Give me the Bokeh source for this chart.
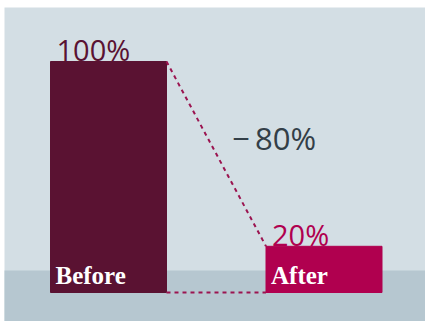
from bokeh.plotting import figure
from bokeh.models import ColumnDataSource, BoxAnnotation
from bokeh.core.properties import value
from bokeh.embed import file_html
from bokeh.resources import INLINE

# data
categories = ["Before", "After"]
values = [100, 20]
value_labels = ["100%", "20%"]
change_label = "\u2212\u200980%"
bar_colors = ["#5a1232", "#b0004f"]

xs = [0, 1]
PX_PER_Y = 2.31
PX_PER_X = 215.5
y0_px = 292  # pixel row of zero line (from top)
H, W = 321, 425
y_start = -(H - y0_px) / PX_PER_Y
y_end = y0_px / PX_PER_Y
x_start = -108 / PX_PER_X
x_end = (W - 108) / PX_PER_X

p = figure(width=W, height=H, x_range=(x_start, x_end), y_range=(y_start, y_end),
           output_backend="svg", toolbar_location=None, min_border=0,
           background_fill_color="white", border_fill_color="white")
p.axis.visible = False
p.grid.visible = False
p.outline_line_color = None

def ypx(py):
    return (y0_px - py) / PX_PER_Y

def xpx(px):
    return (px - 108) / PX_PER_X

# background panels
p.add_layout(BoxAnnotation(left=xpx(4), right=x_end + 1, bottom=y_start - 1, top=ypx(7),
                           fill_color="#d3dee4", fill_alpha=1, line_color=None, level="underlay"))
p.add_layout(BoxAnnotation(left=xpx(4), right=x_end + 1, bottom=y_start - 1, top=ypx(270),
                           fill_color="#b6c7d0", fill_alpha=1, line_color=None, level="underlay"))

bw = 116 / PX_PER_X
src = ColumnDataSource(dict(x=xs, top=values, color=bar_colors, cat=categories,
                            lab=value_labels, left=[x - bw / 2 for x in xs]))

# value labels (drawn before bars so bars overlap their baseline)
p.text(x="left", y="top", text="lab", source=src, text_color="color",
       text_font=value("Open Sans"), text_font_size="29px",
       text_align="left", text_baseline="alphabetic", x_offset=6, y_offset=-12)

p.vbar(x="x", top="top", bottom=0, width=bw, color="color", source=src)

# connector lines
p.line(x=[xs[0] + bw / 2, xs[1] - bw / 2], y=[values[0], values[1]],
       line_color="#9b1450", line_width=2, line_dash="4 4")
p.line(x=[xs[0] + bw / 2, xs[1] - bw / 2], y=[0, 0],
       line_color="#9b1450", line_width=2, line_dash="4 4")

# category labels inside bars
p.text(x="left", y=0, text="cat", source=src, text_color="white",
       text_font=value("Liberation Serif"), text_font_size="25px", text_font_style="bold",
       text_align="left", text_baseline="alphabetic", x_offset=5, y_offset=-17)

# change label
p.text(x=[sum(xs) / 2], y=[sum(values) / 2], text=[change_label], text_color="#333f48",
       text_font=value("Open Sans"), text_font_size="31px",
       text_align="left", text_baseline="alphabetic", x_offset=16, y_offset=-16)

open("out.html", "w").write(file_html(p, INLINE))
